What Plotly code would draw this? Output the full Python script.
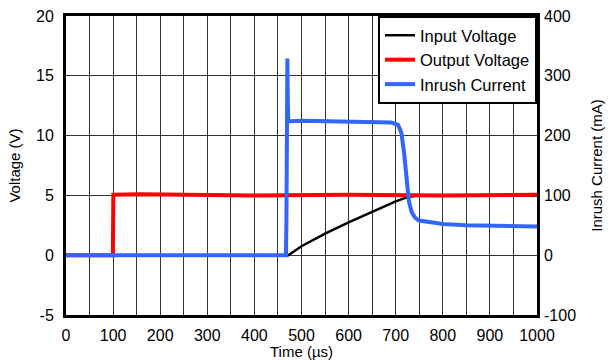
import plotly.graph_objects as go

# time (us) / value pairs read from the scope capture
t_in = [0, 472, 500, 550, 600, 650, 700, 725, 745, 800, 900, 1000]
v_in = [0, 0, 0.75, 1.8, 2.75, 3.65, 4.5, 4.85, 5.0, 5.0, 5.0, 5.0]

t_out = [0, 99.5, 100, 100.5, 160, 260, 400, 600, 800, 1000]
v_out = [0, 0, 2.5, 5.05, 5.1, 5.05, 5.0, 5.05, 5.0, 5.05]

t_cur = [0, 100, 200, 300, 400, 467, 468, 469, 470, 471, 472, 475, 500, 550, 600, 650,
         690, 705, 712, 718, 723, 728, 734, 741, 750, 770, 800, 850, 900, 950, 1000]
i_cur = [0, 0, 1, 0, 0, 0, 60, 200, 329, 250, 226, 224, 225, 224, 224, 223,
         222, 218, 205, 170, 122, 90, 72, 63, 58, 55, 52, 50, 49, 48, 48]

v_ticks = [-5, 0, 5, 10, 15, 20]
i_ticks = [-100, 0, 100, 200, 300, 400]
t_ticks = [0, 100, 200, 300, 400, 500, 600, 700, 800, 900, 1000]

FONT = "Liberation Sans, Arial, sans-serif"

fig = go.Figure()
fig.add_trace(go.Scatter(x=t_in, y=v_in, name="Input Voltage", mode="lines",
                         line=dict(color="black", width=2.5)))
fig.add_trace(go.Scatter(x=t_out, y=v_out, name="Output Voltage", mode="lines",
                         line=dict(color="#ff0000", width=4)))
fig.add_trace(go.Scatter(x=t_cur, y=i_cur, name="Inrush Current", mode="lines",
                         yaxis="y2", line=dict(color="#3366ff", width=4)))

fig.update_layout(
    width=610, height=360,
    margin=dict(l=66, r=73, t=16, b=45),
    paper_bgcolor="white", plot_bgcolor="white",
    font=dict(family=FONT, size=15, color="black"),
    showlegend=True,
    legend=dict(x=1, y=1, xanchor="right", yanchor="top",
                bgcolor="white", bordercolor="black", borderwidth=2,
                font=dict(size=16.5), tracegroupgap=0, itemwidth=30),
    xaxis=dict(range=[0, 1000], tickvals=t_ticks, ticktext=[str(v) for v in t_ticks],
               showgrid=True, gridcolor="#333", gridwidth=1,
               minor=dict(dtick=50, showgrid=True, gridcolor="#333", gridwidth=1),
               showline=True, linecolor="black", linewidth=3, mirror=True,
               zeroline=False, ticks="", ticklabelstandoff=4, automargin=False,
               tickfont=dict(size=16),
               title=dict(text="Time (µs)", standoff=0, font=dict(size=15))),
    yaxis=dict(range=[-5, 20], tickvals=v_ticks, ticktext=[str(v) for v in v_ticks],
               showgrid=True, gridcolor="#333", gridwidth=1,
               showline=True, linecolor="black", linewidth=3, mirror=True,
               zeroline=False, ticks="", ticklabelstandoff=6, automargin=False,
               tickfont=dict(size=16),
               title=dict(text="Voltage (V)", standoff=12, font=dict(size=15))),
    yaxis2=dict(range=[-100, 400], tickvals=i_ticks, ticktext=[str(v) for v in i_ticks],
                overlaying="y", side="right",
                showgrid=False, zeroline=False, ticks="", ticklabelstandoff=6,
                showline=False, automargin=False, tickfont=dict(size=16),
                title=dict(text="Inrush Current (mA)", standoff=16, font=dict(size=15))),
)

# page body has a default 8px margin; drop it so the figure sits at the corner
fig.write_html("out.html", config={"displayModeBar": False},
               post_script="document.body.style.margin = '0';")
